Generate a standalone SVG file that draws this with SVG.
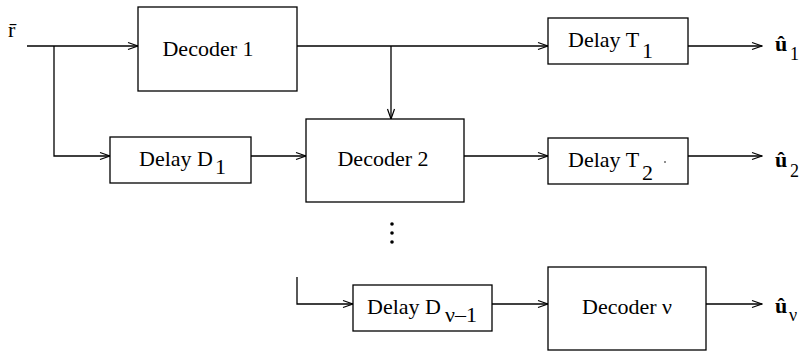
<svg xmlns="http://www.w3.org/2000/svg" width="802" height="353" viewBox="0 0 802 353">
<style>
.box{fill:#fff;stroke:#000;stroke-width:1.3}
.ln{fill:none;stroke:#000;stroke-width:1.3}
text{font-family:"Liberation Serif","Times New Roman",serif;font-size:22px;fill:#000}
.lbl{font-size:22px;font-weight:bold}
.sub{font-weight:normal;font-size:18px}
</style>
<defs>
<marker id="ah" markerWidth="12" markerHeight="10" refX="11" refY="5" orient="auto" markerUnits="userSpaceOnUse">
<path d="M1,1.5 L11,5 L1,8.5" fill="none" stroke="#000" stroke-width="1.2"/>
</marker>
</defs>
<rect width="802" height="353" fill="#fff"/>
<g id="connectors">
<path class="ln" d="M27,46 H138" marker-end="url(#ah)"/>
<path class="ln" d="M54,46 V156 H110" marker-end="url(#ah)"/>
<path class="ln" d="M251,156 H306" marker-end="url(#ah)"/>
<path class="ln" d="M297,46 H548" marker-end="url(#ah)"/>
<path class="ln" d="M391,46 V119" marker-end="url(#ah)"/>
<path class="ln" d="M688,46 H762" marker-end="url(#ah)"/>
<path class="ln" d="M464,156 H548" marker-end="url(#ah)"/>
<path class="ln" d="M688,156 H762" marker-end="url(#ah)"/>
<path class="ln" d="M297,277 V304 H353" marker-end="url(#ah)"/>
<path class="ln" d="M492,304 H548" marker-end="url(#ah)"/>
<path class="ln" d="M706,304 H762" marker-end="url(#ah)"/>
</g>
<g id="input-r"><text x="8" y="37">r̄</text></g>
<g id="decoder1"><rect class="box" x="138" y="7" width="159" height="84"/><text x="208" y="56" text-anchor="middle">Decoder 1</text></g>
<g id="delayD1"><rect class="box" x="110" y="137" width="141" height="46"/><text x="139" y="166">Delay D<tspan x="215" dy="8">1</tspan></text></g>
<g id="decoder2"><rect class="box" x="306" y="119" width="158" height="83"/><text x="383" y="166" text-anchor="middle">Decoder 2</text></g>
<g id="delayT1"><rect class="box" x="548" y="18" width="140" height="46"/><text x="568" y="47">Delay T<tspan x="642" dy="11">1</tspan></text></g>
<g id="delayT2"><rect class="box" x="548" y="138" width="140" height="46"/><text x="568" y="167">Delay T<tspan x="642" dy="13">2</tspan></text><circle cx="665" cy="162" r="0.8" fill="#000"/></g>
<g id="dots"><circle cx="392" cy="224" r="1.8" fill="#000"/><circle cx="392" cy="233" r="1.8" fill="#000"/><circle cx="392" cy="242" r="1.8" fill="#000"/></g>
<g id="delayDv1"><rect class="box" x="353" y="285" width="139" height="46"/><text x="367" y="314">Delay D<tspan x="445" dy="8">ν–1</tspan></text></g>
<g id="decoderv"><rect class="box" x="548" y="267" width="158" height="83"/><text x="627" y="314" text-anchor="middle">Decoder ν</text></g>
<g id="out1"><text class="lbl" x="775" y="51">û<tspan class="sub" x="790" dy="9">1</tspan></text></g>
<g id="out2"><text class="lbl" x="775" y="167">û<tspan class="sub" x="790" dy="10">2</tspan></text></g>
<g id="outv"><text class="lbl" x="775" y="313">û<tspan class="sub" x="789" dy="8">ν</tspan></text></g>
</svg>
